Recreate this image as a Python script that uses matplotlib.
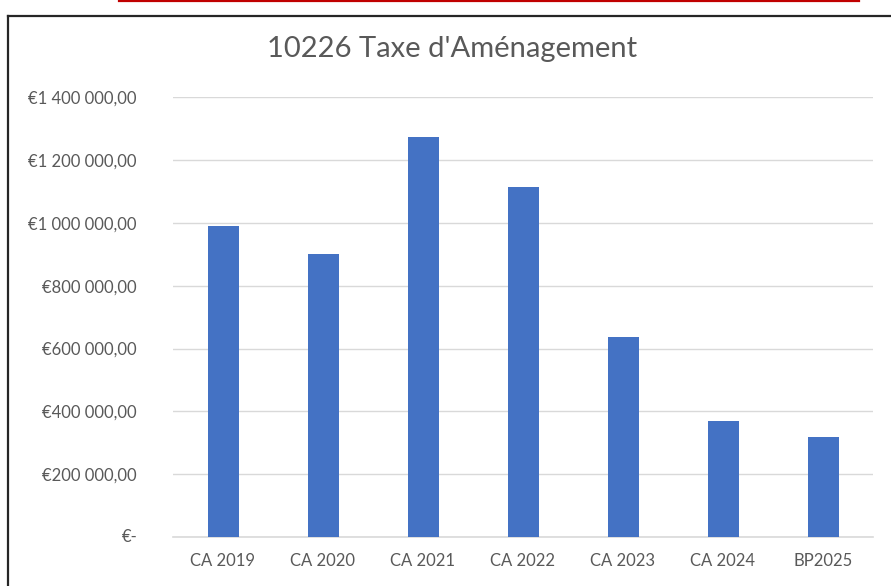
import matplotlib.pyplot as plt
from matplotlib.lines import Line2D
from matplotlib.ticker import FuncFormatter
from matplotlib.transforms import blended_transform_factory

categories = ['CA 2019', 'CA 2020', 'CA 2021', 'CA 2022', 'CA 2023', 'CA 2024', 'BP2025']
amounts = [990000, 900000, 1274000, 1115000, 638000, 370000, 318000]
y_ticks = [0, 200000, 400000, 600000, 800000, 1000000, 1200000, 1400000]

plt.rcParams['font.family'] = ['Lato', 'DejaVu Sans']
text_color = '#595959'


def euro_fmt(v, pos):
    # zero is drawn separately (Excel accounting format indents it)
    if v == 0:
        return ''
    s = f'{v:,.2f}'.replace(',', ' ').replace('.', ',')
    return '€' + s


fig = plt.figure(figsize=(8.91, 5.86), dpi=100)
ax = fig.add_axes([173 / 891, 1 - 537.3 / 586, 700 / 891, (537.3 - 97) / 586])

ax.bar(range(len(categories)), amounts, width=0.31, color='#4472C4', zorder=3)

ax.set_xlim(-0.5, len(categories) - 0.5)
ax.set_ylim(0, 1400000)
ax.set_yticks(y_ticks)
ax.yaxis.set_major_formatter(FuncFormatter(euro_fmt))
ax.set_xticks(range(len(categories)))
ax.set_xticklabels(categories)

ax.grid(axis='y', color='#d9d9d9', linewidth=1, zorder=0)
for side in ['top', 'right', 'left']:
    ax.spines[side].set_visible(False)
ax.spines['bottom'].set_color('#d9d9d9')
ax.spines['bottom'].set_linewidth(1.2)
ax.tick_params(axis='both', length=0, labelsize=12, labelcolor=text_color)
ax.tick_params(axis='y', pad=26)
ax.tick_params(axis='x', pad=11)

trans = blended_transform_factory(fig.transFigure, ax.transData)
ax.text(138 / 891, 0, '€-', transform=trans, ha='right', va='center',
        fontsize=12, color=text_color, clip_on=False)

fig.text(452 / 891, 1 - 49 / 586, "10226 Taxe d'Aménagement", ha='center', va='center',
         fontsize=21, color=text_color)

# frame and red rule from the surrounding document
fig.add_artist(Line2D([8 / 891, 8 / 891], [0, 1 - 16 / 586], color='#262626', linewidth=1.6))
fig.add_artist(Line2D([8 / 891, 1], [1 - 16 / 586, 1 - 16 / 586], color='#262626', linewidth=1.6))
fig.add_artist(Line2D([119 / 891, 859 / 891], [1 - 1 / 586, 1 - 1 / 586], color='#c00000', linewidth=1.6))

plt.savefig('out.png', dpi=100)
